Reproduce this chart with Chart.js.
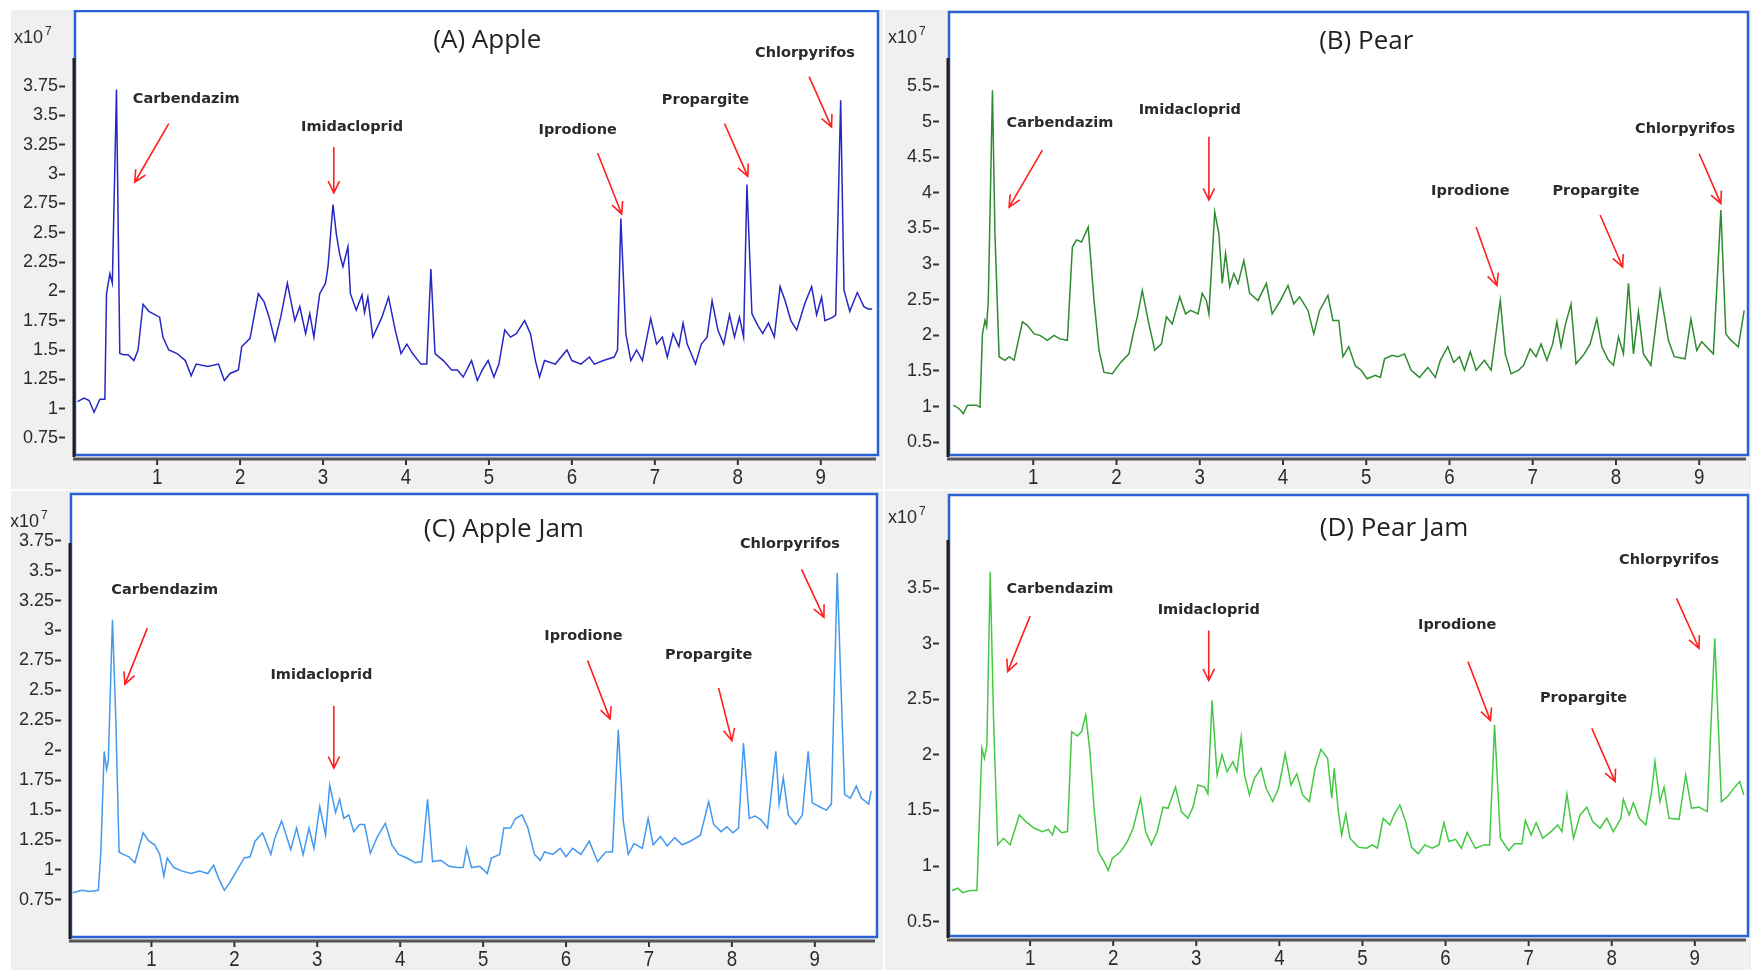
<!DOCTYPE html>
<html>
<head>
<meta charset="utf-8">
<script src="https://cdn.jsdelivr.net/npm/chart.js@4.4.1/dist/chart.umd.min.js"></script>
<style>
  html, body { margin: 0; padding: 0; background: #fff; }
  body { width: 1751px; height: 970px; position: relative; overflow: hidden; }
  #bg { position: absolute; left: 11px; top: 10px; width: 1740px; height: 960px; background: #f0f0f0; }
  .sep { position: absolute; background: #fdfdfd; }
  canvas { position: absolute; }
</style>
</head>
<body>
<div id="bg"></div>
<div class="sep" style="left:883px;top:10px;width:2px;height:960px"></div>
<div class="sep" style="left:11px;top:489px;width:1740px;height:2px"></div>
<canvas id="cA" width="872" height="480" style="left:11px;top:10px"></canvas>
<canvas id="cB" width="866" height="480" style="left:885px;top:10px"></canvas>
<canvas id="cC" width="872" height="478" style="left:11px;top:492px"></canvas>
<canvas id="cD" width="866" height="478" style="left:885px;top:492px"></canvas>
<script>
// retention time ticks (min) and abundance ticks (x10^7)
const minutes = [1, 2, 3, 4, 5, 6, 7, 8, 9];
const appleTicks = [0.75, 1, 1.25, 1.5, 1.75, 2, 2.25, 2.5, 2.75, 3, 3.25, 3.5, 3.75];
const pearTicks = [0.5, 1, 1.5, 2, 2.5, 3, 3.5, 4, 4.5, 5, 5.5];
const appleJamTicks = [0.75, 1, 1.25, 1.5, 1.75, 2, 2.25, 2.5, 2.75, 3, 3.25, 3.5, 3.75];
const pearJamTicks = [0.5, 1, 1.5, 2, 2.5, 3, 3.5];

const pesticides = ['Carbendazim', 'Imidacloprid', 'Iprodione', 'Propargite', 'Chlorpyrifos'];

// [time, abundance]
const apple = [[0.04,1.06],[0.12,1.09],[0.18,1.07],[0.24,0.97],[0.31,1.08],[0.37,1.08],[0.39,1.98],[0.43,2.15],[0.46,2.07],[0.51,3.72],
  [0.55,1.47],[0.6,1.46],[0.65,1.46],[0.72,1.41],[0.77,1.5],[0.83,1.89],[0.9,1.83],[1.03,1.78],[1.07,1.61],[1.14,1.5],
  [1.24,1.47],[1.34,1.41],[1.41,1.28],[1.47,1.38],[1.61,1.36],[1.74,1.38],[1.81,1.24],[1.88,1.3],[1.98,1.33],[2.02,1.53],
  [2.12,1.6],[2.22,1.98],[2.29,1.91],[2.35,1.78],[2.42,1.58],[2.49,1.78],[2.57,2.07],[2.66,1.75],[2.72,1.87],[2.79,1.64],
  [2.84,1.81],[2.89,1.61],[2.96,1.98],[3.03,2.07],[3.06,2.21],[3.12,2.74],[3.16,2.49],[3.2,2.32],[3.24,2.21],[3.3,2.38],
  [3.33,1.98],[3.4,1.84],[3.47,1.97],[3.5,1.82],[3.54,1.95],[3.6,1.61],[3.71,1.78],[3.79,1.95],[3.87,1.67],[3.94,1.47],
  [4.01,1.55],[4.08,1.47],[4.18,1.38],[4.25,1.38],[4.3,2.19],[4.35,1.47],[4.45,1.41],[4.55,1.33],[4.62,1.33],[4.69,1.27],
  [4.79,1.41],[4.86,1.24],[4.92,1.33],[4.99,1.41],[5.06,1.27],[5.12,1.38],[5.19,1.67],[5.26,1.61],[5.33,1.64],[5.43,1.75],
  [5.5,1.64],[5.56,1.41],[5.61,1.27],[5.67,1.41],[5.8,1.38],[5.94,1.5],[6,1.41],[6.11,1.38],[6.21,1.44],[6.27,1.38],
  [6.38,1.41],[6.51,1.44],[6.55,1.5],[6.59,2.62],[6.65,1.64],[6.71,1.41],[6.78,1.5],[6.85,1.41],[6.95,1.77],[7.02,1.55],
  [7.09,1.61],[7.15,1.44],[7.22,1.64],[7.29,1.53],[7.34,1.73],[7.39,1.55],[7.49,1.38],[7.56,1.55],[7.63,1.61],[7.69,1.92],
  [7.76,1.67],[7.83,1.55],[7.9,1.8],[7.96,1.61],[8.02,1.78],[8.07,1.61],[8.11,2.91],[8.17,1.81],[8.24,1.71],[8.3,1.64],
  [8.37,1.73],[8.44,1.61],[8.51,2.04],[8.57,1.92],[8.64,1.75],[8.71,1.67],[8.81,1.9],[8.89,2.04],[8.95,1.8],[9.01,1.95],
  [9.05,1.75],[9.15,1.78],[9.18,1.8],[9.24,3.63],[9.28,2.01],[9.35,1.83],[9.44,1.99],[9.52,1.87],[9.57,1.85],[9.62,1.85]];

const pear = [[0.04,1.02],[0.11,0.97],[0.16,0.9],[0.21,1.02],[0.32,1.02],[0.36,0.99],[0.39,2.02],[0.42,2.21],[0.44,2.12],[0.46,2.49],
  [0.51,5.44],[0.54,3.43],[0.59,1.7],[0.66,1.65],[0.71,1.7],[0.77,1.65],[0.87,2.19],[0.93,2.14],[1.01,2.02],[1.08,2.0],
  [1.17,1.93],[1.25,2.0],[1.32,1.95],[1.41,1.93],[1.47,3.24],[1.52,3.34],[1.58,3.31],[1.66,3.52],[1.73,2.49],[1.79,1.79],
  [1.85,1.48],[1.95,1.46],[2.05,1.62],[2.15,1.74],[2.2,2.02],[2.25,2.26],[2.31,2.63],[2.38,2.21],[2.46,1.79],[2.54,1.88],
  [2.6,2.26],[2.67,2.16],[2.76,2.54],[2.83,2.3],[2.89,2.35],[2.98,2.3],[3.03,2.59],[3.08,2.49],[3.11,2.3],[3.18,3.73],
  [3.23,3.43],[3.27,2.73],[3.31,3.15],[3.36,2.68],[3.41,2.87],[3.46,2.73],[3.53,3.05],[3.6,2.59],[3.7,2.49],[3.8,2.73],
  [3.87,2.3],[3.97,2.49],[4.06,2.7],[4.13,2.44],[4.2,2.54],[4.3,2.35],[4.37,2.02],[4.44,2.35],[4.54,2.56],[4.6,2.21],
  [4.67,2.21],[4.72,1.7],[4.79,1.84],[4.87,1.57],[4.94,1.51],[5.01,1.39],[5.11,1.44],[5.17,1.41],[5.22,1.67],[5.31,1.72],
  [5.38,1.7],[5.46,1.74],[5.54,1.51],[5.64,1.41],[5.74,1.55],[5.83,1.41],[5.89,1.65],[5.98,1.84],[6.05,1.62],[6.12,1.7],
  [6.18,1.51],[6.25,1.77],[6.32,1.51],[6.42,1.65],[6.5,1.51],[6.61,2.49],[6.67,1.74],[6.74,1.46],[6.83,1.51],[6.89,1.58],
  [6.97,1.81],[7.04,1.7],[7.1,1.88],[7.17,1.65],[7.24,1.88],[7.29,2.19],[7.34,1.84],[7.39,2.14],[7.46,2.44],[7.52,1.6],
  [7.62,1.74],[7.69,1.88],[7.77,2.23],[7.83,1.84],[7.91,1.65],[7.97,1.58],[8.03,1.98],[8.09,1.74],[8.15,2.73],[8.21,1.74],
  [8.27,2.33],[8.33,1.74],[8.42,1.58],[8.53,2.63],[8.63,1.93],[8.7,1.7],[8.83,1.67],[8.9,2.23],[8.97,1.79],[9.03,1.91],
  [9.17,1.74],[9.26,3.76],[9.32,2.02],[9.38,1.93],[9.47,1.84],[9.54,2.35]];

const appleJam = [[0.05,0.81],[0.16,0.83],[0.26,0.82],[0.36,0.83],[0.39,1.15],[0.43,1.99],[0.46,1.84],[0.48,1.91],[0.53,3.09],[0.57,2.27],
  [0.61,1.15],[0.66,1.13],[0.73,1.11],[0.8,1.06],[0.9,1.31],[0.97,1.24],[1.04,1.21],[1.1,1.13],[1.15,0.95],[1.19,1.1],
  [1.27,1.02],[1.37,0.99],[1.48,0.97],[1.58,0.99],[1.68,0.97],[1.75,1.04],[1.81,0.93],[1.88,0.83],[1.95,0.9],[2.05,1.02],
  [2.12,1.1],[2.19,1.11],[2.25,1.24],[2.34,1.31],[2.44,1.13],[2.49,1.27],[2.57,1.41],[2.68,1.17],[2.75,1.35],[2.83,1.13],
  [2.9,1.35],[2.96,1.18],[3.03,1.53],[3.1,1.29],[3.15,1.71],[3.22,1.48],[3.27,1.59],[3.32,1.43],[3.38,1.46],[3.44,1.32],
  [3.51,1.38],[3.57,1.38],[3.64,1.14],[3.72,1.27],[3.82,1.39],[3.9,1.21],[3.98,1.13],[4.08,1.1],[4.18,1.06],[4.26,1.07],
  [4.33,1.59],[4.39,1.07],[4.49,1.08],[4.59,1.03],[4.69,1.02],[4.76,1.02],[4.8,1.18],[4.86,1.02],[4.96,1.03],[5.05,0.97],
  [5.1,1.1],[5.2,1.13],[5.25,1.35],[5.33,1.35],[5.39,1.43],[5.47,1.46],[5.54,1.35],[5.62,1.13],[5.69,1.08],[5.74,1.15],
  [5.84,1.13],[5.93,1.18],[6,1.11],[6.08,1.18],[6.18,1.13],[6.28,1.24],[6.38,1.07],[6.48,1.15],[6.56,1.15],[6.63,2.17],
  [6.69,1.41],[6.75,1.13],[6.82,1.22],[6.92,1.18],[6.99,1.43],[7.05,1.21],[7.14,1.28],[7.22,1.2],[7.31,1.27],[7.4,1.21],
  [7.5,1.24],[7.62,1.29],[7.72,1.57],[7.78,1.38],[7.87,1.32],[7.94,1.36],[8.01,1.31],[8.08,1.35],[8.14,2.06],[8.21,1.43],
  [8.28,1.45],[8.35,1.42],[8.43,1.35],[8.53,1.99],[8.57,1.55],[8.62,1.77],[8.68,1.46],[8.77,1.38],[8.85,1.46],[8.92,1.99],
  [8.97,1.56],[9.05,1.53],[9.14,1.5],[9.2,1.55],[9.27,3.48],[9.36,1.63],[9.43,1.6],[9.5,1.7],[9.56,1.6],[9.65,1.55],[9.68,1.66]];

const pearJam = [[0.06,0.78],[0.13,0.8],[0.19,0.76],[0.28,0.78],[0.36,0.78],[0.39,1.43],[0.42,2.06],[0.45,1.97],[0.48,2.09],[0.52,3.65],
  [0.56,2.33],[0.61,1.19],[0.68,1.25],[0.76,1.19],[0.87,1.46],[0.95,1.4],[1.05,1.34],[1.15,1.31],[1.22,1.33],[1.27,1.28],
  [1.3,1.36],[1.38,1.3],[1.45,1.31],[1.5,2.21],[1.57,2.17],[1.62,2.21],[1.67,2.36],[1.72,2.03],[1.77,1.52],[1.82,1.13],
  [1.89,1.04],[1.94,0.96],[1.99,1.07],[2.09,1.13],[2.17,1.22],[2.24,1.34],[2.33,1.61],[2.39,1.31],[2.46,1.19],[2.53,1.31],
  [2.6,1.53],[2.66,1.52],[2.75,1.71],[2.82,1.49],[2.9,1.43],[2.96,1.53],[3.02,1.73],[3.1,1.71],[3.14,1.65],[3.19,2.49],
  [3.25,1.82],[3.31,2.0],[3.37,1.85],[3.44,1.94],[3.49,1.85],[3.54,2.16],[3.58,1.82],[3.64,1.64],[3.7,1.79],[3.78,1.88],
  [3.84,1.7],[3.92,1.58],[3.99,1.7],[4.07,2.01],[4.14,1.73],[4.21,1.83],[4.28,1.64],[4.36,1.58],[4.43,1.88],[4.5,2.05],
  [4.58,1.97],[4.63,1.61],[4.66,1.88],[4.71,1.49],[4.75,1.28],[4.8,1.47],[4.85,1.25],[4.95,1.17],[5.05,1.16],[5.12,1.19],
  [5.18,1.16],[5.25,1.43],[5.33,1.37],[5.38,1.46],[5.45,1.55],[5.52,1.4],[5.59,1.17],[5.67,1.11],[5.75,1.19],[5.84,1.16],
  [5.92,1.19],[5.98,1.39],[6.04,1.22],[6.12,1.24],[6.19,1.16],[6.26,1.3],[6.36,1.16],[6.46,1.19],[6.53,1.19],[6.59,2.27],
  [6.66,1.25],[6.76,1.14],[6.83,1.2],[6.92,1.2],[6.96,1.41],[7.03,1.28],[7.09,1.39],[7.17,1.25],[7.27,1.31],[7.35,1.37],
  [7.4,1.31],[7.46,1.65],[7.54,1.25],[7.62,1.46],[7.7,1.53],[7.77,1.4],[7.86,1.34],[7.94,1.43],[8.02,1.31],[8.11,1.43],
  [8.14,1.6],[8.21,1.46],[8.26,1.57],[8.33,1.43],[8.41,1.37],[8.48,1.67],[8.52,1.94],[8.58,1.58],[8.63,1.71],[8.69,1.43],
  [8.81,1.42],[8.89,1.82],[8.96,1.52],[9.05,1.53],[9.15,1.49],[9.24,3.05],[9.32,1.58],[9.4,1.63],[9.48,1.71],[9.54,1.76],[9.59,1.64]];

function arrow(ctx, x1, y1, x2, y2) {
  const ang = Math.atan2(y2 - y1, x2 - x1);
  ctx.beginPath();
  ctx.moveTo(x1, y1);
  ctx.lineTo(x2, y2);
  ctx.moveTo(x2 - 13 * Math.cos(ang - 0.45), y2 - 13 * Math.sin(ang - 0.45));
  ctx.lineTo(x2, y2);
  ctx.lineTo(x2 - 13 * Math.cos(ang + 0.45), y2 - 13 * Math.sin(ang + 0.45));
  ctx.stroke();
}

// frame, axis lines, x labels, titles and the red pointers
const decor = {
  id: 'decor',
  beforeDraw(chart) {
    const { ctx, chartArea: a } = chart;
    ctx.save();
    ctx.fillStyle = '#fff';
    ctx.fillRect(a.left, a.top, a.right - a.left, a.bottom - a.top);
    ctx.restore();
  },
  afterDraw(chart, args, o) {
    const { ctx, chartArea: a, scales: { x, y } } = chart;
    ctx.save();
    ctx.strokeStyle = '#2b62d3';
    ctx.lineWidth = 2.5;
    ctx.strokeRect(a.left, a.top, a.right - a.left, a.bottom - a.top);

    ctx.strokeStyle = '#1e1e1e';
    ctx.lineWidth = 3;
    ctx.beginPath();
    ctx.moveTo(a.left - 1, a.top + o.axisTop);
    ctx.lineTo(a.left - 1, a.bottom + 2);
    ctx.stroke();

    ctx.strokeStyle = '#555';
    ctx.beginPath();
    ctx.moveTo(a.left - 2, a.bottom + 4);
    ctx.lineTo(a.right - 2, a.bottom + 4);
    ctx.stroke();

    ctx.strokeStyle = '#333';
    ctx.lineWidth = 2;
    ctx.fillStyle = '#2b2b2b';
    ctx.font = '17px "Liberation Sans", Arial, sans-serif';
    ctx.textAlign = 'center';
    ctx.textBaseline = 'middle';
    minutes.forEach(m => {
      const px = x.getPixelForValue(m);
      ctx.beginPath();
      ctx.moveTo(px, a.bottom + 5);
      ctx.lineTo(px, a.bottom + 10);
      ctx.stroke();
      ctx.save();
      ctx.translate(px, a.bottom + 23);
      ctx.scale(1.1, 1.35);
      ctx.fillText(String(m), 0, 0);
      ctx.restore();
    });

    // x10^7
    ctx.textAlign = 'left';
    ctx.font = '18px "Liberation Sans", Arial, sans-serif';
    const ex = a.left - 61, ey = a.top + o.expDy;
    ctx.fillText('x10', ex, ey);
    const w = ctx.measureText('x10').width;
    ctx.font = '12px "Liberation Sans", Arial, sans-serif';
    ctx.fillText('7', ex + w + 2, ey - 6);

    ctx.textAlign = 'center';
    ctx.fillStyle = '#222';
    ctx.font = '26px "Open Sans", "Noto Sans", sans-serif';
    ctx.fillText(o.title, x.getPixelForValue(o.titleAt[0]), a.top + o.titleAt[1]);

    ctx.font = 'bold 14.5px "DejaVu Sans", sans-serif';
    ctx.fillStyle = '#2a2a2a';
    ctx.strokeStyle = '#ff2020';
    ctx.lineWidth = 1.6;
    o.notes.forEach((n, i) => {
      ctx.fillText(pesticides[i], x.getPixelForValue(n.at[0]), y.getPixelForValue(n.at[1]));
      arrow(ctx, x.getPixelForValue(n.from[0]), y.getPixelForValue(n.from[1]),
        x.getPixelForValue(n.to[0]), y.getPixelForValue(n.to[1]));
    });
    ctx.restore();
  }
};

const panels = [
  { id: 'cA', trace: apple, color: '#2727c4', ticks: appleTicks, yMin: 0.605, yMax: 4.39, xMin: 0.01, xMax: 9.69,
    axisW: 64, pad: { top: 1, right: 5, bottom: 35 }, title: '(A) Apple', titleAt: [4.98, 30], axisTop: 47, expDy: 27,
    notes: [
      { at: [1.35, 3.64], from: [1.14, 3.43], to: [0.73, 2.93] },
      { at: [3.35, 3.40], from: [3.13, 3.23], to: [3.13, 2.84] },
      { at: [6.07, 3.37], from: [6.31, 3.18], to: [6.60, 2.66] },
      { at: [7.61, 3.63], from: [7.84, 3.43], to: [8.12, 2.98] },
      { at: [8.81, 4.03], from: [8.86, 3.83], to: [9.13, 3.40] }] },
  { id: 'cB', trace: pear, color: '#2e8b2e', ticks: pearTicks, yMin: 0.32, yMax: 6.54, xMin: -0.012, xMax: 9.586,
    axisW: 64, pad: { top: 2, right: 3, bottom: 35 }, title: '(B) Pear', titleAt: [5.0, 30], axisTop: 46, expDy: 26,
    notes: [
      { at: [1.32, 4.98], from: [1.11, 4.60], to: [0.71, 3.80] },
      { at: [2.88, 5.16], from: [3.11, 4.79], to: [3.11, 3.90] },
      { at: [6.25, 4.03], from: [6.32, 3.52], to: [6.57, 2.70] },
      { at: [7.76, 4.03], from: [7.81, 3.69], to: [8.08, 2.96] },
      { at: [8.83, 4.90], from: [9.00, 4.55], to: [9.26, 3.85] }] },
  { id: 'cC', trace: appleJam, color: '#4499ee', ticks: appleJamTicks, yMin: 0.44, yMax: 4.14, xMin: 0.03, xMax: 9.75,
    axisW: 60, pad: { top: 2, right: 6, bottom: 33 }, title: '(C) Apple Jam', titleAt: [5.25, 36], axisTop: 49, expDy: 28,
    notes: [
      { at: [1.16, 3.34], from: [0.95, 3.02], to: [0.68, 2.55] },
      { at: [3.05, 2.63], from: [3.20, 2.37], to: [3.20, 1.85] },
      { at: [6.21, 2.95], from: [6.26, 2.75], to: [6.53, 2.26] },
      { at: [7.72, 2.79], from: [7.84, 2.52], to: [8.00, 2.08] },
      { at: [8.70, 3.72], from: [8.84, 3.51], to: [9.11, 3.11] }] },
  { id: 'cD', trace: pearJam, color: '#44c844', ticks: pearJamTicks, yMin: 0.37, yMax: 4.34, xMin: 0.024, xMax: 9.64,
    axisW: 64, pad: { top: 3, right: 3, bottom: 34 }, title: '(D) Pear Jam', titleAt: [5.38, 34], axisTop: 45, expDy: 23,
    notes: [
      { at: [1.36, 3.49], from: [1.00, 3.25], to: [0.73, 2.75] },
      { at: [3.15, 3.30], from: [3.15, 3.12], to: [3.15, 2.67] },
      { at: [6.14, 3.17], from: [6.27, 2.84], to: [6.54, 2.31] },
      { at: [7.66, 2.51], from: [7.76, 2.24], to: [8.04, 1.76] },
      { at: [8.69, 3.75], from: [8.78, 3.41], to: [9.05, 2.96] }] }
];

panels.forEach(p => {
  new Chart(document.getElementById(p.id), {
    type: 'line',
    data: {
      datasets: [{
        data: p.trace.map(([t, v]) => ({ x: t, y: v })),
        borderColor: p.color,
        borderWidth: 1.5,
        pointRadius: 0,
        tension: 0,
        fill: false
      }]
    },
    options: {
      responsive: false,
      animation: false,
      devicePixelRatio: 1,
      layout: { padding: { left: 0, top: p.pad.top, right: p.pad.right, bottom: p.pad.bottom } },
      plugins: {
        legend: { display: false },
        tooltip: { enabled: false },
        decor: { title: p.title, titleAt: p.titleAt, axisTop: p.axisTop, expDy: p.expDy, notes: p.notes }
      },
      scales: {
        x: { type: 'linear', min: p.xMin, max: p.xMax, display: false },
        y: {
          min: p.yMin,
          max: p.yMax,
          afterBuildTicks: s => { s.ticks = p.ticks.map(v => ({ value: v })); },
          afterFit: s => { s.width = p.axisW; s.paddingTop = 0; s.paddingBottom = 0; },
          border: { display: false },
          grid: { display: true, drawOnChartArea: false, drawTicks: true, tickLength: 16,
                  tickColor: '#333', tickWidth: 2, tickBorderDash: [6, 30] },
          ticks: {
            padding: 1,
            autoSkip: false,
            color: '#2b2b2b',
            font: { family: '"Liberation Sans", Arial, sans-serif', size: 18 },
            callback: v => String(v)
          }
        }
      }
    },
    plugins: [decor]
  });
});
</script>
</body>
</html>
